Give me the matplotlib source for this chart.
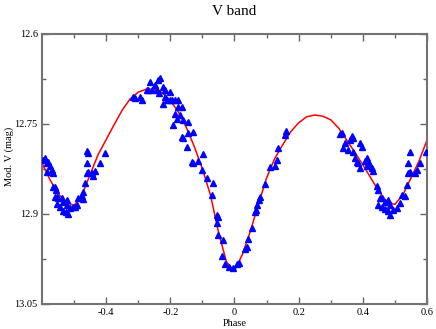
import matplotlib
matplotlib.use("Agg")
import matplotlib.pyplot as plt
import numpy as np

# observed points (phase, V mag)
obs_phase = [
    -0.597, -0.591, -0.584, -0.581, -0.575, -0.569, -0.584, -0.566, -0.566, -0.560,
    -0.556, -0.560, -0.553, -0.550, -0.538, -0.553, -0.544, -0.535, -0.535, -0.525,
    -0.519, -0.522, -0.522, -0.513, -0.503, -0.497, -0.491, -0.488, -0.475, -0.472,
    -0.472, -0.466, -0.460, -0.457, -0.444, -0.441, -0.435, -0.460, -0.457, -0.460,
    -0.419, -0.404,
    -0.316, -0.310, -0.295, -0.288, -0.273, -0.270, -0.263, -0.257, -0.248, -0.242,
    -0.238, -0.232, -0.235, -0.223, -0.217, -0.201, -0.217, -0.210, -0.223, -0.201,
    -0.195, -0.185, -0.176, -0.176, -0.164, -0.185, -0.179, -0.161, -0.145, -0.192,
    -0.170, -0.164, -0.161, -0.145, -0.129, -0.148, -0.133, -0.129, -0.114, -0.098,
    -0.101, -0.086, -0.067, -0.070, -0.055, -0.051, -0.055, -0.051, -0.036, -0.039,
    -0.030, -0.017, -0.005, 0.008, 0.014, 0.033, 0.039, 0.042, 0.055, 0.064,
    0.067, 0.070, 0.076, 0.080, 0.095, 0.111, 0.126, 0.133, 0.136, 0.157, 0.161,
    0.335, 0.329, 0.345, 0.338, 0.354, 0.360, 0.366, 0.369, 0.369, 0.391,
    0.398, 0.376, 0.382, 0.385, 0.391, 0.407, 0.413, 0.416, 0.422, 0.429,
    0.432, 0.413, 0.444, 0.447, 0.454, 0.460, 0.447, 0.460, 0.469, 0.479,
    0.485, 0.469, 0.479, 0.485, 0.494, 0.507, 0.516, 0.522, 0.532, 0.538,
    0.541, 0.547, 0.563, 0.569, 0.578, 0.547, 0.541, 0.598,
]
obs_mag = [
    12.810, 12.807, 12.815, 12.813, 12.820, 12.827, 12.830, 12.832, 12.855, 12.855,
    12.860, 12.872, 12.872, 12.873, 12.873, 12.883, 12.888, 12.880, 12.895, 12.897,
    12.900, 12.877, 12.885, 12.890, 12.888, 12.888, 12.885, 12.873, 12.870, 12.875,
    12.863, 12.848, 12.832, 12.830, 12.832, 12.837, 12.828, 12.815, 12.798, 12.795,
    12.815, 12.798,
    12.705, 12.707, 12.705, 12.710, 12.693, 12.693, 12.680, 12.693, 12.685, 12.693,
    12.677, 12.673, 12.698, 12.688, 12.693, 12.697, 12.705, 12.710, 12.717, 12.710,
    12.710, 12.710, 12.710, 12.722, 12.722, 12.733, 12.742, 12.743, 12.747, 12.752,
    12.735, 12.772, 12.773, 12.765, 12.763, 12.788, 12.813, 12.815, 12.812, 12.800,
    12.827, 12.840, 12.848, 12.868, 12.902, 12.905, 12.915, 12.935, 12.943, 12.970,
    12.983, 12.988, 12.990, 12.983, 12.982, 12.958, 12.955, 12.942, 12.923, 12.897,
    12.893, 12.885, 12.877, 12.872, 12.850, 12.822, 12.820, 12.810, 12.790, 12.768, 12.762,
    12.765, 12.767, 12.782, 12.790, 12.793, 12.777, 12.770, 12.773, 12.797, 12.782,
    12.788, 12.807, 12.813, 12.815, 12.823, 12.812, 12.807, 12.813, 12.818, 12.823,
    12.828, 12.820, 12.853, 12.860, 12.873, 12.873, 12.885, 12.888, 12.880, 12.877,
    12.885, 12.892, 12.895, 12.902, 12.893, 12.890, 12.882, 12.868, 12.870, 12.852,
    12.832, 12.830, 12.832, 12.827, 12.815, 12.797, 12.815, 12.797,
]

# model light curve
model_phase = [
    -0.6, -0.575, -0.55, -0.525, -0.5, -0.475, -0.45, -0.425, -0.4, -0.375,
    -0.35, -0.325, -0.3, -0.275, -0.25, -0.225, -0.2, -0.175, -0.15, -0.125,
    -0.1, -0.075, -0.05, -0.025, 0.0, 0.025, 0.05, 0.075, 0.1, 0.125,
    0.15, 0.175, 0.2, 0.225, 0.25, 0.275, 0.3, 0.325, 0.35, 0.375,
    0.4, 0.425, 0.45, 0.475, 0.5, 0.525, 0.55, 0.575, 0.6,
]
model_mag = [
    12.815, 12.843, 12.866, 12.880, 12.886, 12.868, 12.834, 12.801, 12.776, 12.751,
    12.727, 12.708, 12.697, 12.692, 12.692, 12.698, 12.711, 12.730, 12.756, 12.788,
    12.825, 12.868, 12.930, 12.980, 12.995, 12.967, 12.928, 12.883, 12.840, 12.808,
    12.785, 12.763, 12.748, 12.738, 12.735, 12.737, 12.743, 12.757, 12.777, 12.797,
    12.818, 12.840, 12.862, 12.880, 12.884, 12.868, 12.840, 12.812, 12.777,
]

plt.rcParams['font.family'] = ['Liberation Serif', 'DejaVu Serif']
plt.rcParams['axes.unicode_minus'] = False

fig = plt.figure(figsize=(4.36, 3.29), dpi=100)
ax = fig.add_axes([0.0963, 0.076, 0.8830, 0.8207])

ax.plot(model_phase, model_mag, color='#ff0000', lw=1.1, zorder=2)
ax.plot(obs_phase, obs_mag, '^', color='#0000ff', ms=4.5, mec='#0000ff', zorder=3)

ax.set_xlim(-0.6, 0.6)
ax.set_ylim(13.05, 12.6)
ax.set_xticks([-0.4, -0.2, 0, 0.2, 0.4, 0.6])
ax.set_xticklabels(['-0.4', '-0.2', '0', '0.2', '0.4', '0.6'])
ax.set_xticks([-0.5, -0.3, -0.1, 0.1, 0.3, 0.5], minor=True)
ax.set_yticks([12.6, 12.75, 12.9, 13.05])
ax.set_yticklabels(['12.6', '12.75', '12.9', '13.05'])
ax.set_yticks([12.675, 12.825, 12.975], minor=True)

ax.tick_params(which='both', direction='in', top=True, right=True,
               color='0.4', width=1.0, labelsize=7.5, pad=3)
ax.tick_params(which='major', length=5)
ax.tick_params(which='minor', length=3)
for s in ax.spines.values():
    s.set_color('0.45')
    s.set_linewidth(1.5)

ax.set_title('V band', fontsize=11, pad=14)
ax.set_xlabel('Phase', fontsize=7.5, labelpad=1)
ax.set_ylabel('Mod. V (mag)', fontsize=7.5, labelpad=4)
ax.yaxis.set_label_coords(-0.073, 0.548)

fig.savefig('out.png', dpi=100)
